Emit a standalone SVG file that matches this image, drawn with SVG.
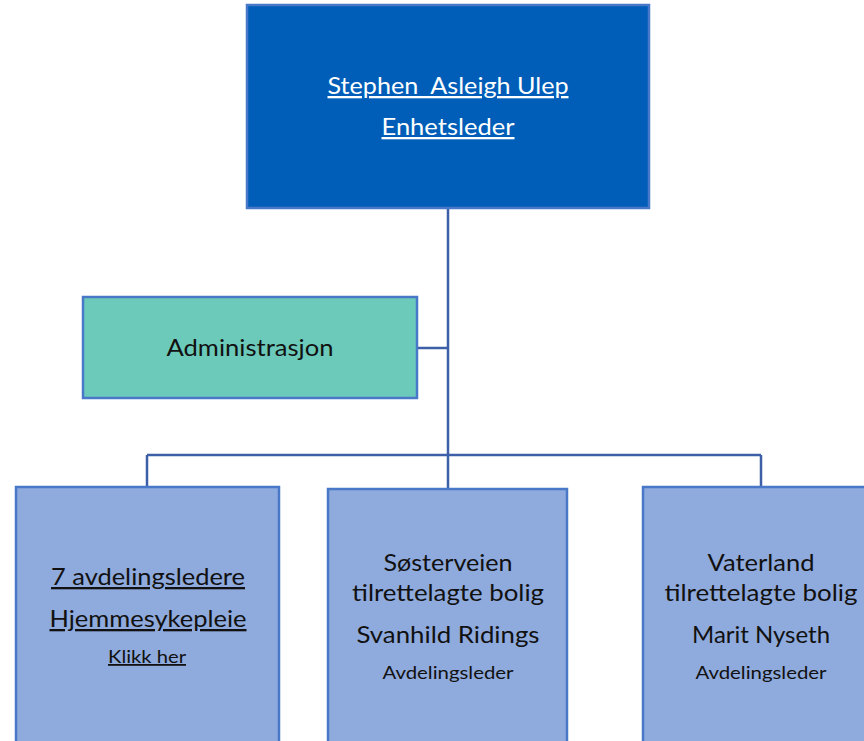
<svg xmlns="http://www.w3.org/2000/svg" width="864" height="741" viewBox="0 0 864 741">
<style>
.box{stroke:#4A78C8;stroke-width:2.5}
.top{fill:#005EB8}
.adm{fill:#6CCABA}
.sub{fill:#8FAADC}
.conn{fill:none;stroke:#3D5FA8;stroke-width:2.5}
text{font-family:Lato,"Noto Sans","Liberation Sans",sans-serif;text-anchor:middle;fill:#111}
.big{font-size:23px}
.sm{font-size:18px}
.u{text-decoration:underline}
.w{fill:#ffffff}
</style>
<rect width="864" height="741" fill="#ffffff"/>
<g id="connectors">
<path class="conn" d="M448 208V455M417 348H448M147 455H761M147 455V487M448 455V489M761 455V487"/>
</g>
<g id="n-top">
<rect class="box top" x="247" y="5" width="402" height="203"/>
<text class="big u w" x="448" y="94" textLength="241" lengthAdjust="spacingAndGlyphs" xml:space="preserve">Stephen  Asleigh Ulep</text>
<text class="big u w" x="448" y="135" textLength="133" lengthAdjust="spacingAndGlyphs">Enhetsleder</text>
</g>
<g id="n-admin">
<rect class="box adm" x="83" y="297" width="334" height="101"/>
<text class="big" x="250" y="356" textLength="167" lengthAdjust="spacingAndGlyphs">Administrasjon</text>
</g>
<g id="n-hjemme">
<rect class="box sub" x="16" y="487" width="263" height="270"/>
<text class="big u" x="148" y="585" textLength="194" lengthAdjust="spacingAndGlyphs">7 avdelingsledere</text>
<text class="big u" x="148" y="627" textLength="197" lengthAdjust="spacingAndGlyphs">Hjemmesykepleie</text>
<text class="sm u" x="147" y="663" textLength="78" lengthAdjust="spacingAndGlyphs">Klikk her</text>
</g>
<g id="n-soster">
<rect class="box sub" x="328" y="489" width="239" height="270"/>
<text class="big" x="448" y="571" textLength="129" lengthAdjust="spacingAndGlyphs">Søsterveien</text>
<text class="big" x="448" y="601" textLength="192" lengthAdjust="spacingAndGlyphs">tilrettelagte bolig</text>
<text class="big" x="448" y="643" textLength="183" lengthAdjust="spacingAndGlyphs">Svanhild Ridings</text>
<text class="sm" x="448" y="679" textLength="131" lengthAdjust="spacingAndGlyphs">Avdelingsleder</text>
</g>
<g id="n-vaterland">
<rect class="box sub" x="643" y="487" width="236" height="270"/>
<text class="big" x="761" y="571" textLength="107" lengthAdjust="spacingAndGlyphs">Vaterland</text>
<text class="big" x="761" y="601" textLength="193" lengthAdjust="spacingAndGlyphs">tilrettelagte bolig</text>
<text class="big" x="761" y="643" textLength="138" lengthAdjust="spacingAndGlyphs">Marit Nyseth</text>
<text class="sm" x="761" y="679" textLength="131" lengthAdjust="spacingAndGlyphs">Avdelingsleder</text>
</g>
</svg>
